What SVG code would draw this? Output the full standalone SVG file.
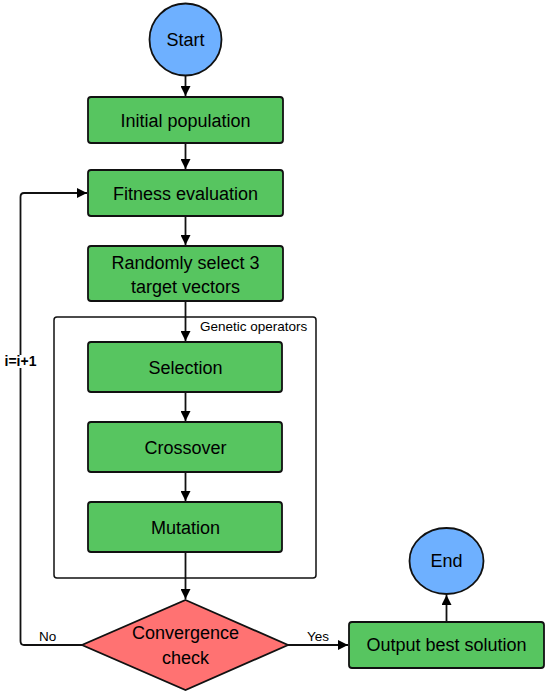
<svg xmlns="http://www.w3.org/2000/svg" width="550" height="695" viewBox="0 0 550 695">
<defs>
<marker id="ah" viewBox="0 0 10 10" refX="10" refY="5" markerWidth="10" markerHeight="10" markerUnits="userSpaceOnUse" orient="auto">
<path d="M0,0 L10,5 L0,10 z" fill="#000"/>
</marker>
<style>
.box{fill:#57c560;stroke:#111;stroke-width:1.8}
.term{fill:#6eb0ff;stroke:#111;stroke-width:1.8}
.dec{fill:#ff7272;stroke:#111;stroke-width:1.8}
.grp{fill:none;stroke:#111;stroke-width:1.5}
.t{font-family:"Liberation Sans",Arial,sans-serif;font-size:18px;fill:#000;text-anchor:middle}
.s{font-family:"Liberation Sans",Arial,sans-serif;font-size:13.5px;fill:#000}
.c{fill:none;stroke:#111;stroke-width:1.8}
</style>
</defs>
<g id="genetic-operators">
<rect class="grp" x="54" y="317" width="262" height="261" rx="3"/>
<text class="s" x="200" y="331">Genetic operators</text>
</g>
<g id="connectors">
<path class="c" d="M185.5,76 V96" marker-end="url(#ah)"/>
<path class="c" d="M185.5,143 V169" marker-end="url(#ah)"/>
<path class="c" d="M185.5,216 V245" marker-end="url(#ah)"/>
<path class="c" d="M185.5,301 V341" marker-end="url(#ah)"/>
<path class="c" d="M185.5,392 V421" marker-end="url(#ah)"/>
<path class="c" d="M185.5,472 V501" marker-end="url(#ah)"/>
<path class="c" d="M185.5,552 V599" marker-end="url(#ah)"/>
<path class="c" d="M82,645 H24 Q20.5,645 20.5,641 V197 Q20.5,193 24,193 H87" marker-end="url(#ah)"/>
<path class="c" d="M288,645 H348" marker-end="url(#ah)"/>
<path class="c" d="M446.5,622 V595" marker-end="url(#ah)"/>
<text class="s" x="39" y="641">No</text>
<text class="s" x="307" y="641">Yes</text>
<rect x="4" y="355" width="33" height="13" fill="#fff"/>
<text class="s" x="20.5" y="366" style="font-weight:bold;text-anchor:middle;font-size:14px">i=i+1</text>
</g>
<g id="start">
<ellipse class="term" cx="185.5" cy="39.5" rx="36" ry="36"/>
<text class="t" x="185.5" y="46">Start</text>
</g>
<g id="initial-population">
<rect class="box" x="88" y="97" width="195" height="46" rx="3"/>
<text class="t" x="185.5" y="127">Initial population</text>
</g>
<g id="fitness-evaluation">
<rect class="box" x="88" y="170" width="195" height="46" rx="3"/>
<text class="t" x="185.5" y="200">Fitness evaluation</text>
</g>
<g id="random-select">
<rect class="box" x="88" y="246" width="195" height="55" rx="3"/>
<text class="t" x="185.5" y="269">Randomly select 3</text>
<text class="t" x="185.5" y="293">target vectors</text>
</g>
<g id="selection">
<rect class="box" x="88" y="342" width="194" height="50" rx="3"/>
<text class="t" x="185.5" y="374">Selection</text>
</g>
<g id="crossover">
<rect class="box" x="88" y="422" width="194" height="50" rx="3"/>
<text class="t" x="185.5" y="454">Crossover</text>
</g>
<g id="mutation">
<rect class="box" x="88" y="502" width="194" height="50" rx="3"/>
<text class="t" x="185.5" y="534">Mutation</text>
</g>
<g id="convergence-check">
<polygon class="dec" points="185.5,600 288,645 185.5,690 82,645"/>
<text class="t" x="185.5" y="639">Convergence</text>
<text class="t" x="185.5" y="664">check</text>
</g>
<g id="output-best">
<rect class="box" x="349" y="622" width="195" height="46" rx="3"/>
<text class="t" x="446.5" y="651">Output best solution</text>
</g>
<g id="end">
<ellipse class="term" cx="446.5" cy="561" rx="37" ry="33"/>
<text class="t" x="446.5" y="567">End</text>
</g>
</svg>
